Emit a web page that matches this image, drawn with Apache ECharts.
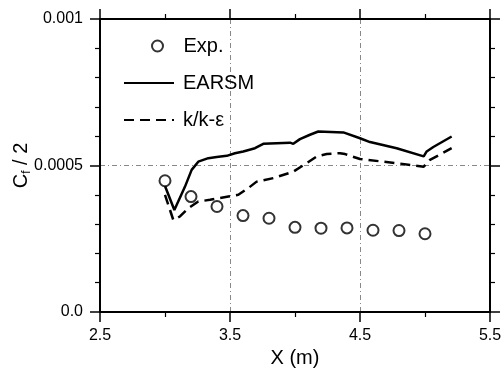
<!DOCTYPE html>
<html><head><meta charset="utf-8">
<script src="https://cdn.jsdelivr.net/npm/echarts@6/dist/echarts.min.js"></script>
<style>html,body{margin:0;padding:0;background:#fff}#c{width:504px;height:374px}</style>
</head><body><div id="c"></div>
<script>
const expX = [3.0, 3.2, 3.4, 3.6, 3.8, 4.0, 4.2, 4.4, 4.6, 4.8, 5.0];
const expY = [0.000448, 0.000394, 0.00036, 0.000329, 0.00032, 0.000289, 0.000286, 0.000287, 0.000279, 0.000278, 0.000267];
const earsmX = [3.0, 3.072, 3.154, 3.205, 3.256, 3.333, 3.398, 3.475, 3.538, 3.602, 3.692, 3.756, 3.859, 3.962, 3.987, 4.038, 4.115, 4.179, 4.372, 4.5, 4.577, 4.782, 4.99, 5.013, 5.064, 5.205];
const earsmY = [0.00043, 0.000348, 0.000428, 0.000485, 0.000513, 0.000525, 0.000529, 0.000533, 0.000542, 0.000548, 0.000559, 0.000574, 0.000576, 0.000578, 0.000574, 0.00059, 0.000605, 0.000616, 0.000613, 0.000593, 0.00058, 0.000559, 0.000531, 0.000548, 0.000563, 0.000599];
const kkeX = [3.0, 3.064, 3.115, 3.179, 3.256, 3.346, 3.487, 3.564, 3.641, 3.705, 3.833, 3.987, 4.09, 4.167, 4.244, 4.346, 4.385, 4.5, 4.782, 4.99, 5.038, 5.205];
const kkeY = [0.00040, 0.000314, 0.000326, 0.000354, 0.000377, 0.000383, 0.000394, 0.0004, 0.000423, 0.000445, 0.000457, 0.000479, 0.000508, 0.000531, 0.000539, 0.000542, 0.000539, 0.000522, 0.000508, 0.000496, 0.000519, 0.000559];
const xTicks = [2.5, 3.5, 4.5, 5.5];
const yTickLabels = {"0": "0.0", "0.0005": "0.0005", "0.001": "0.001"};

const zip = (a, b) => a.map((v, i) => [v, b[i]]);
const FONT = 'Liberation Sans, Arial, sans-serif';
const axisCommon = {
  axisLine: {show: true, onZero: false, lineStyle: {color: '#000', width: 2}},
  axisTick: {show: true, inside: false, length: 10, lineStyle: {color: '#000', width: 1.5}},
  minorTick: {show: true, length: 5, lineStyle: {color: '#000', width: 1.2}},
};
const grid = {left: 100, right: 14, top: 19, bottom: 62, containLabel: false, outerBoundsMode: 'none'};
const hiddenSym = {color: 'rgba(0,0,0,0)', borderWidth: 0, opacity: 0};
const legendText = {fontFamily: FONT, fontSize: 20, color: '#000', lineHeight: 20, padding: [0, 0, 0, 4]};
const chart = echarts.init(document.getElementById('c'));
chart.setOption({
  animation: false,
  backgroundColor: '#fff',
  grid: grid,
  legend: [
    {orient: 'vertical', left: 151, top: 36, itemWidth: 34, itemHeight: 11, padding: 0,
      textStyle: legendText, data: [{name: 'Exp.'}]},
    {orient: 'vertical', left: 123, top: 73, itemGap: 17, itemWidth: 50, itemHeight: 14, padding: 0,
      textStyle: legendText,
      data: [{name: 'EARSM', itemStyle: hiddenSym}, {name: 'k/k-ε', itemStyle: hiddenSym}]}
  ],
  xAxis: [
    Object.assign({type: 'value', min: xTicks[0], max: xTicks[xTicks.length - 1], interval: 1, position: 'bottom',
      name: 'X (m)', nameLocation: 'middle', nameGap: 36, nameMoveOverlap: false,
      nameTextStyle: {fontFamily: FONT, fontSize: 20, color: '#000'},
      axisLabel: {show: true, margin: 16, fontFamily: FONT, fontSize: 16, color: '#000', formatter: v => v.toFixed(1)},
      splitLine: {show: true, lineStyle: {color: '#888', width: 1, type: [5, 3, 1, 3]}}
    }, axisCommon, {minorTick: Object.assign({}, axisCommon.minorTick, {splitNumber: 2})}),
    Object.assign({type: 'value', min: xTicks[0], max: xTicks[xTicks.length - 1], interval: 1, position: 'top',
      axisLabel: {show: false}, splitLine: {show: false}
    }, axisCommon, {minorTick: Object.assign({}, axisCommon.minorTick, {splitNumber: 2})})
  ],
  yAxis: [
    Object.assign({type: 'value', min: 0, max: 0.001, interval: 0.0005, position: 'left',
      name: '{a|C}{s|f}{a| / 2}', nameLocation: 'middle', nameGap: 67, nameRotate: 90, nameMoveOverlap: false,
      nameTextStyle: {rich: {
        a: {fontFamily: FONT, fontSize: 20, color: '#000'},
        s: {fontFamily: FONT, fontSize: 12, color: '#000', verticalAlign: 'bottom', padding: [12, 0, 0, 0]}
      }},
      axisLabel: {show: true, margin: 17, fontFamily: FONT, fontSize: 16, color: '#000',
        formatter: v => yTickLabels[String(+v.toFixed(4))] || ''},
      splitLine: {show: true, lineStyle: {color: '#888', width: 1, type: [5, 3, 1, 3]}}
    }, axisCommon, {minorTick: Object.assign({}, axisCommon.minorTick, {splitNumber: 5})}),
    Object.assign({type: 'value', min: 0, max: 0.001, interval: 0.0005, position: 'right',
      axisLabel: {show: false}, splitLine: {show: false}
    }, axisCommon, {minorTick: Object.assign({}, axisCommon.minorTick, {splitNumber: 5})})
  ],
  series: [
    {name: 'EARSM', type: 'line', data: zip(earsmX, earsmY), symbol: 'none', z: 3,
      lineStyle: {color: '#000', width: 2.5, type: 'solid'}, itemStyle: {color: '#000'}},
    {name: 'k/k-ε', type: 'line', data: zip(kkeX, kkeY), symbol: 'none', z: 3,
      lineStyle: {color: '#000', width: 2.5, type: [10, 6]}, itemStyle: {color: '#000'}},
    {name: 'Exp.', type: 'scatter', data: zip(expX, expY), symbol: 'circle', symbolSize: 11, z: 4,
      itemStyle: {color: '#fff', borderColor: '#000', borderWidth: 2}}
  ]
});
</script></body></html>
